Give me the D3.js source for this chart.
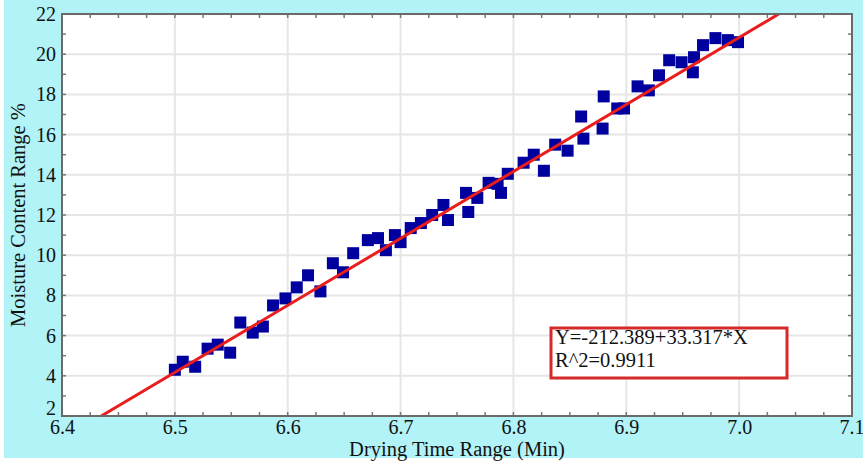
<!DOCTYPE html>
<html>
<head>
<meta charset="utf-8">
<script src="https://cdn.jsdelivr.net/npm/d3@7"></script>
<style>
  body { margin: 0; background: #fff; }
  svg text { font-family: "Liberation Serif", "Times New Roman", serif; }
</style>
</head>
<body>
<svg id="chart"></svg>
<script>
// measured points (drying time, moisture content)
const dryTime = [6.500, 6.507, 6.518, 6.529, 6.538, 6.549, 6.558, 6.569, 6.578, 6.587,
  6.598, 6.608, 6.618, 6.629, 6.640, 6.649, 6.658, 6.671, 6.680, 6.687,
  6.695, 6.700, 6.709, 6.718, 6.728, 6.738, 6.742, 6.758, 6.760, 6.768,
  6.778, 6.786, 6.789, 6.795, 6.809, 6.818, 6.827, 6.837, 6.848, 6.860,
  6.862, 6.879, 6.880, 6.892, 6.898, 6.910, 6.920, 6.929, 6.938, 6.949,
  6.959, 6.960, 6.968, 6.979, 6.990, 6.999];
const moisture = [4.3, 4.7, 4.45, 5.35, 5.55, 5.15, 6.65, 6.15, 6.45, 7.5,
  7.85, 8.4, 9.0, 8.2, 9.6, 9.15, 10.1, 10.75, 10.85, 10.25,
  11.0, 10.65, 11.35, 11.6, 12.0, 12.5, 11.75, 13.1, 12.15, 12.85,
  13.6, 13.55, 13.1, 14.05, 14.6, 15.0, 14.2, 15.5, 15.2, 16.9,
  15.8, 16.3, 17.9, 17.3, 17.3, 18.4, 18.2, 18.95, 19.7, 19.6,
  19.1, 19.85, 20.45, 20.8, 20.7, 20.6];

// regression line Y=-212.389+33.317*X, drawn across the y range
const fitX = [6.4348, 7.0351];
const fitY = [2, 22];

const xTicks = [6.4, 6.5, 6.6, 6.7, 6.8, 6.9, 7.0, 7.1];
const yTicks = [2, 4, 6, 8, 10, 12, 14, 16, 18, 20, 22];
const legendLines = ["Y=-212.389+33.317*X", "R^2=0.9911"];

const width = 863, height = 461;
const margin = { top: 14, right: 11, bottom: 45, left: 62 };

const svg = d3.select("#chart")
  .attr("width", width)
  .attr("height", height);

// cyan backdrop
svg.append("rect")
  .attr("x", 4).attr("y", 0)
  .attr("width", width - 4).attr("height", 458)
  .attr("fill", "#b1f3f6");

const x = d3.scaleLinear()
  .domain([6.4, 7.1])
  .range([margin.left, width - margin.right]);

const y = d3.scaleLinear()
  .domain([2, 22])
  .range([height - margin.bottom, margin.top]);

const plotW = width - margin.left - margin.right;
const plotH = height - margin.top - margin.bottom;

svg.append("rect")
  .attr("x", margin.left).attr("y", margin.top)
  .attr("width", plotW).attr("height", plotH)
  .attr("fill", "#fff");

// grid
svg.append("g")
  .selectAll("line")
  .data(xTicks.slice(1, -1))
  .enter().append("line")
  .attr("x1", d => x(d)).attr("x2", d => x(d))
  .attr("y1", margin.top).attr("y2", height - margin.bottom)
  .attr("stroke", "#e6e6e6").attr("stroke-width", 2);

svg.append("g")
  .selectAll("line")
  .data(yTicks.slice(1, -1))
  .enter().append("line")
  .attr("x1", margin.left).attr("x2", width - margin.right)
  .attr("y1", d => y(d)).attr("y2", d => y(d))
  .attr("stroke", "#e6e6e6").attr("stroke-width", 2);

// minor ticks on all four sides, pointing inward
const xMinor = d3.range(0, 29).map(i => 6.4 + i * 0.025);
const yMinor = d3.range(2, 23);

const tickG = svg.append("g").attr("stroke", "#777").attr("stroke-width", 1.5);
xMinor.forEach(v => {
  tickG.append("line").attr("x1", x(v)).attr("x2", x(v))
    .attr("y1", height - margin.bottom).attr("y2", height - margin.bottom - 4);
  tickG.append("line").attr("x1", x(v)).attr("x2", x(v))
    .attr("y1", margin.top).attr("y2", margin.top + 4);
});
yMinor.forEach(v => {
  tickG.append("line").attr("y1", y(v)).attr("y2", y(v))
    .attr("x1", margin.left).attr("x2", margin.left + 4);
  tickG.append("line").attr("y1", y(v)).attr("y2", y(v))
    .attr("x1", width - margin.right).attr("x2", width - margin.right - 4);
});

// points
const pts = dryTime.map((d, i) => ({ t: d, m: moisture[i] }));
const s = 12;
svg.append("g")
  .selectAll("rect")
  .data(pts)
  .enter().append("rect")
  .attr("x", d => x(d.t) - s / 2)
  .attr("y", d => y(d.m) - s / 2)
  .attr("width", s).attr("height", s)
  .attr("fill", "#00009e");

// fit line
svg.append("line")
  .attr("x1", x(fitX[0])).attr("y1", y(fitY[0]))
  .attr("x2", x(fitX[1])).attr("y2", y(fitY[1]))
  .attr("stroke", "#ea1c1c").attr("stroke-width", 3);

// frame
svg.append("rect")
  .attr("x", margin.left).attr("y", margin.top)
  .attr("width", plotW).attr("height", plotH)
  .attr("fill", "none")
  .attr("stroke", "#6a6a6a").attr("stroke-width", 2);

// axes (labels only)
const xAxis = svg.append("g")
  .attr("transform", `translate(0,${height - margin.bottom})`)
  .call(d3.axisBottom(x).tickValues(xTicks).tickFormat(d3.format(".1f")).tickSize(0).tickPadding(4));
xAxis.select(".domain").remove();
xAxis.selectAll("text").attr("font-size", 20).attr("fill", "#111")
  .attr("font-family", "Liberation Serif");
// last label pulled in so it stays inside the window
xAxis.selectAll(".tick").filter(d => d === 7.1).select("text")
  .attr("text-anchor", "end").attr("dx", "0.6em");

const yAxis = svg.append("g")
  .attr("transform", `translate(${margin.left},0)`)
  .call(d3.axisLeft(y).tickValues(yTicks).tickSize(0).tickPadding(6));
yAxis.select(".domain").remove();
yAxis.selectAll("text").attr("font-size", 20).attr("fill", "#111")
  .attr("font-family", "Liberation Serif");
// lowest label sits a little above its tick, clear of the x labels
yAxis.selectAll(".tick").filter(d => d === 2).select("text").attr("dy", "-0.1em");

svg.append("text")
  .attr("x", 457).attr("y", 456)
  .attr("text-anchor", "middle")
  .attr("font-size", 20.5).attr("fill", "#111")
  .text("Drying Time Range (Min)");

svg.append("text")
  .attr("transform", "translate(25,215) rotate(-90)")
  .attr("text-anchor", "middle")
  .attr("font-size", 20.5).attr("fill", "#111")
  .text("Moisture Content Range %");

// equation box
svg.append("rect")
  .attr("x", 551).attr("y", 328)
  .attr("width", 236).attr("height", 50)
  .attr("fill", "#fff")
  .attr("stroke", "#d42a2a").attr("stroke-width", 3);

svg.append("g")
  .selectAll("text")
  .data(legendLines)
  .enter().append("text")
  .attr("x", 555)
  .attr("y", (d, i) => 344 + i * 23)
  .attr("font-size", 20.5).attr("fill", "#111")
  .text(d => d);
</script>
</body>
</html>
